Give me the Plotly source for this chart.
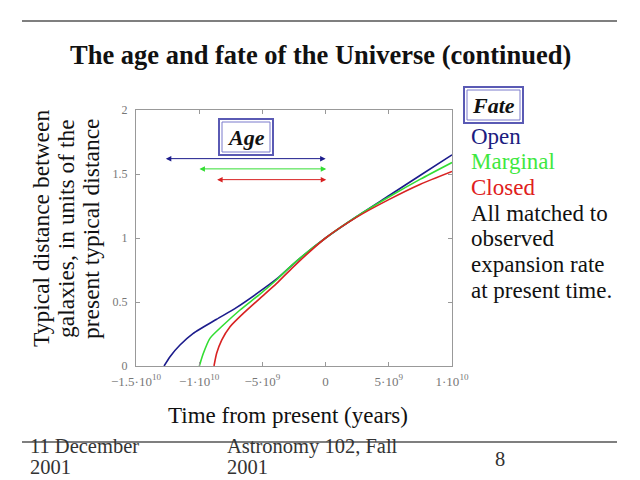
import plotly.graph_objects as go

# ---- data (time in years relative to present, scale factor) ----
open_t = [-12.78e9, -12.31e9, -11.52e9, -10.47e9, -8.62e9, -7.03e9, -5.45e9, -3.87e9, -2.29e9, 0, 2.5e9, 5e9, 7.5e9, 10e9]
open_y = [0, 0.073, 0.164, 0.255, 0.365, 0.458, 0.565, 0.68, 0.82, 1.0, 1.17, 1.33, 1.49, 1.65]

marg_t = [-9.99e9, -9.67e9, -9.15e9, -8.09e9, -6.77e9, -5.19e9, -3.87e9, -2.55e9, 0, 2.5e9, 5e9, 7.5e9, 10e9]
marg_y = [0, 0.099, 0.216, 0.32, 0.4375, 0.562, 0.674, 0.798, 1.0, 1.17, 1.32, 1.46, 1.59]

closed_t = [-8.83e9, -8.62e9, -8.22e9, -7.56e9, -6.51e9, -5.19e9, -3.87e9, -2.55e9, 0, 2.5e9, 5e9, 7.5e9, 10e9]
closed_y = [0, 0.099, 0.203, 0.307, 0.411, 0.529, 0.645, 0.775, 1.0, 1.165, 1.30, 1.42, 1.52]

# age arrows: start time, end time, height
age_start = [-12.76e9, -10.1e9, -8.7e9]
age_end = [0.0, 0.05e9, 0.05e9]
age_level = [1.62, 1.54, 1.456]

x_tickvals = [-1.5e10, -1e10, -5e9, 0, 5e9, 1e10]
x_ticktext = ["−1.5·10<sup>10</sup>", "−1·10<sup>10</sup>", "−5·10<sup>9</sup>", "0",
              "5·10<sup>9</sup>", "1·10<sup>10</sup>"]
y_tickvals = [0, 0.5, 1, 1.5, 2]
y_ticktext = ["0", "0.5", "1", "1.5", "2"]

series_names = ["Open", "Marginal", "Closed"]
colors = ["#1c1c8c", "#33dd33", "#d82222"]
text_colors = ["#1c1c80", "#3fe83f", "#e02020"]
note_lines = ["All matched to", "observed", "expansion rate", "at present time."]
ytitle_lines = ["Typical distance between", "galaxies, in units of the", "present typical distance"]

W, H = 640, 480
def px(x):
    return x / W
def py(y):
    return 1 - y / H

SERIF = "Liberation Serif"

fig = go.Figure()
for t, y, c, n in zip([open_t, marg_t, closed_t], [open_y, marg_y, closed_y], colors, series_names):
    fig.add_trace(go.Scatter(x=t, y=y, mode="lines", name=n,
                             line=dict(color=c, width=1.6, shape="spline", smoothing=0.6),
                             showlegend=False, hoverinfo="skip"))

annotations = []
for s, e, lv, c in zip(age_start, age_end, age_level, colors):
    annotations.append(dict(x=e, y=lv, ax=s, ay=lv, xref="x", yref="y", axref="x", ayref="y",
                            text="", showarrow=True, arrowhead=2, arrowside="end+start",
                            arrowsize=1.1, arrowwidth=1, arrowcolor=c))

def label(x, y, text, size, color="#111", xanchor="center", angle=0):
    annotations.append(dict(x=px(x), y=py(y), xref="paper", yref="paper", showarrow=False,
                            text=text, textangle=angle,
                            font=dict(family=SERIF, size=size, color=color),
                            xanchor=xanchor, yanchor="middle"))

# title
label(320, 55, "<b>The age and fate of the Universe (continued)</b>", 26.5)
# x axis title
label(288, 415, "Time from present (years)", 23)
# y axis title, one line each
for i, ln in enumerate(ytitle_lines):
    label(41 + 25 * i, 229, ln, 23.5, angle=-90)
# Age / Fate labels
label(246, 137, "<b><i>Age</i></b>", 22)
label(493, 105, "<b><i>Fate</i></b>", 22)
# legend-like texts
for i, (n, c) in enumerate(zip(series_names, text_colors)):
    label(469, 136 + 25.6 * i, n, 23, color=c, xanchor="left")
for i, ln in enumerate(note_lines):
    label(469, 213 + 25.7 * i, ln, 23, xanchor="left")
# footer
label(28, 446, "11 December", 20.5, color="#333", xanchor="left")
label(28, 467, "2001", 20.5, color="#333", xanchor="left")
label(225, 446, "Astronomy 102, Fall", 20.5, color="#333", xanchor="left")
label(225, 467, "2001", 20.5, color="#333", xanchor="left")
label(500, 459, "8", 20.5, color="#333")

def box(x0, y0, x1, y1):
    return [
        dict(type="rect", xref="paper", yref="paper", x0=px(x0), x1=px(x1), y0=py(y0), y1=py(y1),
             line=dict(color="#5a5ab4", width=2)),
        dict(type="rect", xref="paper", yref="paper", x0=px(x0 + 3), x1=px(x1 - 3), y0=py(y0 + 3), y1=py(y1 - 3),
             line=dict(color="#7a7acc", width=1)),
    ]

shapes = []
shapes += box(219, 119, 273, 155)
shapes += box(464, 87, 523, 123)
shapes.append(dict(type="line", xref="paper", yref="paper", x0=px(22), x1=px(617), y0=py(21), y1=py(21),
                   line=dict(color="#555", width=1.5)))
shapes.append(dict(type="line", xref="paper", yref="paper", x0=px(22), x1=px(617), y0=py(442), y1=py(442),
                   line=dict(color="#555", width=1.5)))

fig.update_layout(
    width=W, height=H, autosize=False,
    margin=dict(l=0, r=0, t=0, b=0, pad=0, autoexpand=False),
    paper_bgcolor="white", plot_bgcolor="white",
    showlegend=False,
    annotations=annotations, shapes=shapes,
    xaxis=dict(domain=[px(136), px(452)], range=[-1.5e10, 1e10], tickvals=x_tickvals, ticktext=x_ticktext,
               ticks="inside", ticklen=4, tickcolor="#999", showline=True, linecolor="#999", linewidth=1,
               mirror="ticks", showgrid=False, zeroline=False, automargin=False, ticklabelstandoff=3,
               tickfont=dict(family=SERIF, size=13, color="#777")),
    yaxis=dict(domain=[py(366), py(110)], range=[0, 2], tickvals=y_tickvals, ticktext=y_ticktext,
               ticks="inside", ticklen=4, tickcolor="#999", showline=True, linecolor="#999", linewidth=1,
               mirror="ticks", showgrid=False, zeroline=False, automargin=False, ticklabelstandoff=5,
               tickfont=dict(family=SERIF, size=12, color="#777")),
)

fig.write_html("out.html", config={"displayModeBar": False},
               post_script="document.body.style.margin='0px';document.documentElement.style.overflow='hidden';")
